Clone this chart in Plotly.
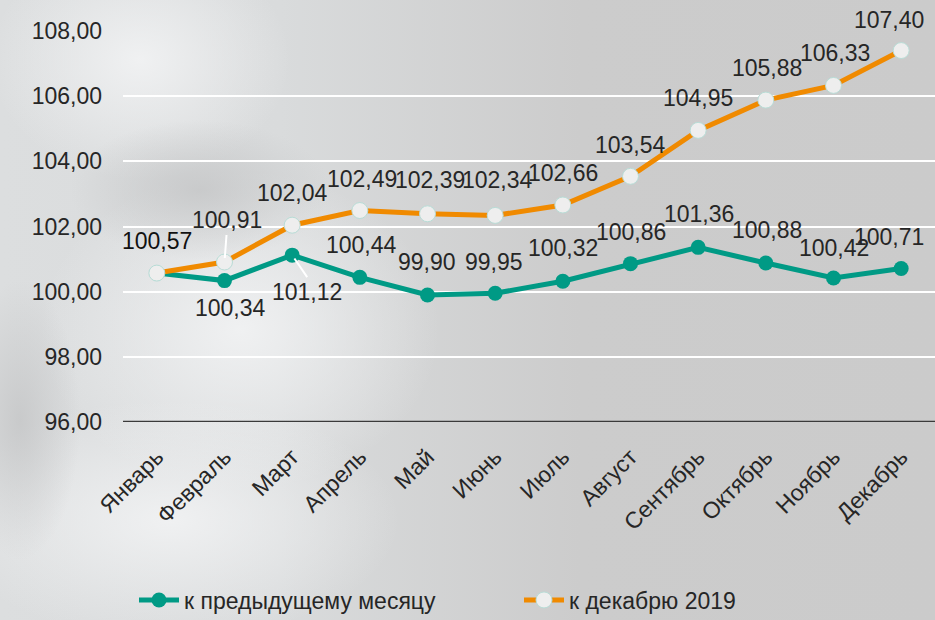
import base64
import plotly.graph_objects as go

months = ["Январь", "Февраль", "Март", "Апрель", "Май", "Июнь", "Июль",
          "Август", "Сентябрь", "Октябрь", "Ноябрь", "Декабрь"]
prev_month = [100.57, 100.34, 101.12, 100.44, 99.90, 99.95, 100.32,
              100.86, 101.36, 100.88, 100.42, 100.71]
to_dec2019 = [100.57, 100.91, 102.04, 102.49, 102.39, 102.34, 102.66,
              103.54, 104.95, 105.88, 106.33, 107.40]
name_prev = "к предыдущему месяцу"
name_dec = "к декабрю 2019"

TEAL = "#009a85"
ORANGE = "#f08a00"
WHITE_M = "#eeeeee"
TXT = "#262626"
FONT = "Liberation Sans, Arial, sans-serif"

svg = """<svg xmlns='http://www.w3.org/2000/svg' width='935' height='620'>
<defs>
<linearGradient id='g' x1='0' y1='0' x2='1' y2='0'>
<stop offset='0' stop-color='#dcdedf'/>
<stop offset='0.3' stop-color='#d9dbdc'/>
<stop offset='0.62' stop-color='#cccccc'/>
<stop offset='1' stop-color='#cbcbcb'/>
</linearGradient>
<radialGradient id='r1' cx='0.5' cy='0.5' r='0.5'>
<stop offset='0' stop-color='#f2f3f4' stop-opacity='0.9'/>
<stop offset='1' stop-color='#f2f3f4' stop-opacity='0'/>
</radialGradient>
<radialGradient id='r2' cx='0.5' cy='0.5' r='0.5'>
<stop offset='0' stop-color='#c4c5c6' stop-opacity='0.8'/>
<stop offset='1' stop-color='#c4c5c6' stop-opacity='0'/>
</radialGradient>
</defs>
<rect width='935' height='620' fill='url(#g)'/>
<ellipse cx='140' cy='60' rx='150' ry='120' fill='url(#r1)'/>
<ellipse cx='240' cy='330' rx='200' ry='160' fill='url(#r1)'/>
<ellipse cx='170' cy='520' rx='230' ry='120' fill='url(#r1)'/>
<ellipse cx='200' cy='190' rx='130' ry='70' fill='url(#r2)'/>
<ellipse cx='20' cy='420' rx='60' ry='140' fill='url(#r2)'/>
</svg>"""
bg_src = "data:image/svg+xml;base64," + base64.b64encode(svg.encode("utf-8")).decode()

W, H = 935, 620
ML, MR, MT, MB = 123, 0, 31, 198
PW, PH = W - ML - MR, H - MT - MB

fig = go.Figure()
fig.add_trace(go.Scatter(
    x=months, y=prev_month, name=name_prev, mode="lines+markers",
    line=dict(color=TEAL, width=5),
    marker=dict(color=TEAL, size=15),
    legend="legend",
))
fig.add_trace(go.Scatter(
    x=months, y=to_dec2019, name=name_dec, mode="lines+markers",
    line=dict(color=ORANGE, width=5),
    marker=dict(color=WHITE_M, size=16, line=dict(color="#b8dcd6", width=1)),
    legend="legend2",
))

def fmt(v):
    return f"{v:.2f}".replace(".", ",")

LBL = dict(size=23, color=TXT)
# label offsets (pixels, dx right, dy up) for each series
dec_off = [(0, 32), (2, 27), (0, 32), (2, 32), (2, 34), (2, 35), (0, 32),
           (0, 31), (0, 32), (1, 32), (1, 32), (-12, 31)]
prev_off = [None, (6, -27), (15, -22), (2, 32), (-1, 33), (-1, 31), (0, 33),
            (0, 32), (1, 33), (1, 33), (0, 30), (-12, 32)]

ann = []
for i, (m, v) in enumerate(zip(months, to_dec2019)):
    dx, dy = dec_off[i]
    if i == 1:
        ann.append(dict(x=m, y=v, text=fmt(v), showarrow=True, arrowhead=0,
                        arrowwidth=2, arrowcolor="#ffffff", ax=dx, ay=-dy,
                        standoff=4, font=LBL, yanchor="bottom", xanchor="center"))
    else:
        ann.append(dict(x=m, y=v, text=fmt(v), showarrow=False, xshift=dx, yshift=dy,
                        font=LBL))
for i, (m, v) in enumerate(zip(months, prev_month)):
    if prev_off[i] is None:
        continue
    dx, dy = prev_off[i]
    if i == 2:
        ann.append(dict(x=m, y=v, text=fmt(v), showarrow=True, arrowhead=0,
                        arrowwidth=2, arrowcolor="#ffffff", ax=dx, ay=-dy,
                        standoff=4, font=LBL, yanchor="top", xanchor="center"))
    else:
        ann.append(dict(x=m, y=v, text=fmt(v), showarrow=False, xshift=dx, yshift=dy,
                        font=LBL))
ann[0]["font"] = dict(size=23, color="#111111")

leg_common = dict(orientation="h", xanchor="left", y=-178 / PH, yanchor="middle",
                  font=dict(size=23, family=FONT, color=TXT),
                  bgcolor="rgba(0,0,0,0)", itemwidth=40)

fig.update_layout(
    width=W, height=H,
    margin=dict(l=ML, r=MR, t=MT, b=MB, pad=0, autoexpand=False),
    paper_bgcolor="#cccccc",
    plot_bgcolor="rgba(0,0,0,0)",
    separators=", ",
    font=dict(family=FONT, color=TXT),
    annotations=ann,
    images=[dict(source=bg_src, xref="paper", yref="paper",
                 x=-ML / PW, y=1 + MT / PH, sizex=W / PW, sizey=H / PH,
                 xanchor="left", yanchor="top", sizing="stretch", layer="below")],
    showlegend=True,
    legend=dict(x=(134 - ML) / PW, **leg_common),
    legend2=dict(x=(519 - ML) / PW, **leg_common),
)
fig.update_xaxes(
    type="category", range=[-0.5, 11.5], tickangle=-45,
    tickfont=dict(size=23, family=FONT, color=TXT),
    showgrid=False, showline=False, zeroline=False, ticks="",
    ticklabelstandoff=16,
)
fig.update_yaxes(
    range=[96, 108], dtick=2, tickformat=".2f",
    tickfont=dict(size=23, color=TXT),
    showgrid=True, gridcolor="#ffffff", gridwidth=2, zeroline=False,
    showline=False, ticks="", ticklabelstandoff=20,
)
fig.add_shape(type="line", xref="paper", yref="y", x0=0, x1=1, y0=96, y1=96,
              line=dict(color="#3a3a3a", width=2.5))

fig.write_html("out.html", config={"displayModeBar": False},
               post_script="document.body.style.margin='0';document.body.style.overflow='hidden';")
